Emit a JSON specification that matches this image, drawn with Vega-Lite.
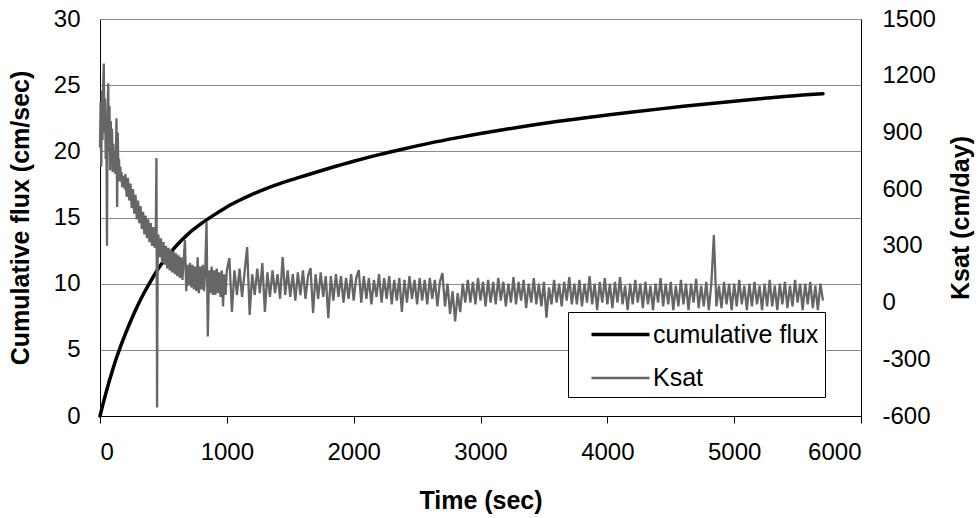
{
"$schema": "https://vega.github.io/schema/vega-lite/v6.json",
"width": 761, "height": 397,
"autosize": "none",
"padding": {"left": 100, "top": 19, "right": 119, "bottom": 102},
"background": "white",
"config": {"font": "Liberation Sans", "view": {"stroke": null},
 "axis": {"labelFont": "Liberation Sans", "titleFont": "Liberation Sans", "labelColor": "black", "titleColor": "black", "labelFontSize": 24, "titleFontSize": 25, "titleFontWeight": "bold", "domainColor": "black", "tickColor": "black", "domainWidth": 1}},
"datasets": {
"flux": [{"t":0,"v":0},{"t":25,"v":0.95},{"t":50,"v":1.85},{"t":75,"v":2.7},{"t":100,"v":3.5},{"t":130,"v":4.4},{"t":160,"v":5.2},{"t":200,"v":6.2},{"t":250,"v":7.35},{"t":300,"v":8.4},{"t":350,"v":9.35},{"t":400,"v":10.2},{"t":450,"v":11.0},{"t":500,"v":11.7},{"t":550,"v":12.3},{"t":600,"v":12.85},{"t":700,"v":13.8},{"t":800,"v":14.55},{"t":900,"v":15.2},{"t":1000,"v":15.8},{"t":1100,"v":16.3},{"t":1200,"v":16.75},{"t":1300,"v":17.15},{"t":1400,"v":17.5},{"t":1500,"v":17.82},{"t":1600,"v":18.12},{"t":1800,"v":18.7},{"t":2000,"v":19.25},{"t":2200,"v":19.75},{"t":2400,"v":20.2},{"t":2600,"v":20.62},{"t":2800,"v":21.0},{"t":3000,"v":21.35},{"t":3200,"v":21.67},{"t":3400,"v":21.97},{"t":3600,"v":22.25},{"t":3800,"v":22.5},{"t":4000,"v":22.74},{"t":4200,"v":22.97},{"t":4400,"v":23.19},{"t":4600,"v":23.4},{"t":4800,"v":23.6},{"t":5000,"v":23.79},{"t":5200,"v":23.97},{"t":5400,"v":24.14},{"t":5600,"v":24.3},{"t":5700,"v":24.36}],
"ksat": [{"t":0,"v":820},{"t":5,"v":1060},{"t":10,"v":720},{"t":15,"v":1120},{"t":20,"v":860},{"t":25,"v":1150},{"t":30,"v":1265},{"t":35,"v":900},{"t":40,"v":1080},{"t":45,"v":760},{"t":50,"v":980},{"t":55,"v":300},{"t":60,"v":1000},{"t":65,"v":1160},{"t":70,"v":800},{"t":75,"v":1040},{"t":80,"v":700},{"t":85,"v":960},{"t":90,"v":780},{"t":95,"v":920},{"t":100,"v":690},{"t":105,"v":840},{"t":110,"v":720},{"t":115,"v":800},{"t":120,"v":680},{"t":125,"v":760},{"t":130,"v":975},{"t":135,"v":505},{"t":140,"v":900},{"t":145,"v":690},{"t":150,"v":760},{"t":155,"v":640},{"t":160,"v":720},{"t":165,"v":650},{"t":170,"v":690},{"t":175,"v":610},{"t":180,"v":670},{"t":185,"v":630},{"t":190,"v":655},{"t":195,"v":600},
{"t":200,"v":680},{"t":210,"v":560},{"t":220,"v":660},{"t":230,"v":540},{"t":240,"v":630},{"t":250,"v":500},{"t":260,"v":600},{"t":270,"v":470},{"t":280,"v":570},{"t":290,"v":440},{"t":300,"v":540},{"t":310,"v":420},{"t":320,"v":510},{"t":330,"v":390},{"t":340,"v":480},{"t":350,"v":360},{"t":360,"v":460},{"t":370,"v":340},{"t":380,"v":440},{"t":390,"v":320},{"t":400,"v":420},{"t":410,"v":300},{"t":420,"v":400},{"t":430,"v":290},{"t":440,"v":380},{"t":445,"v":765},{"t":450,"v":-555},{"t":455,"v":300},
{"t":460,"v":360},{"t":470,"v":240},{"t":480,"v":340},{"t":490,"v":210},{"t":500,"v":320},{"t":510,"v":200},{"t":520,"v":300},{"t":530,"v":180},{"t":540,"v":290},{"t":550,"v":170},{"t":560,"v":280},{"t":570,"v":160},{"t":580,"v":270},{"t":590,"v":150},{"t":600,"v":260},{"t":610,"v":140},{"t":620,"v":250},{"t":630,"v":130},{"t":640,"v":240},{"t":650,"v":120},{"t":660,"v":230},{"t":670,"v":330},{"t":680,"v":60},
{"t":690,"v":200},{"t":700,"v":90},{"t":710,"v":210},{"t":720,"v":80},{"t":730,"v":200},{"t":740,"v":70},{"t":750,"v":190},{"t":760,"v":60},{"t":770,"v":240},{"t":780,"v":50},{"t":790,"v":190},{"t":800,"v":70},{"t":810,"v":200},{"t":820,"v":60},{"t":830,"v":180},{"t":840,"v":426},{"t":850,"v":-180},{"t":860,"v":170},{"t":870,"v":50},{"t":880,"v":190},{"t":890,"v":40},{"t":900,"v":170},{"t":910,"v":40},{"t":920,"v":180},{"t":930,"v":50},{"t":940,"v":160},{"t":950,"v":30},{"t":960,"v":170},{"t":970,"v":-20},{"t":980,"v":150},{"t":990,"v":40},{"t":1000,"v":170},
{"t":1020,"v":236},{"t":1040,"v":-50},{"t":1060,"v":170},{"t":1080,"v":40},{"t":1100,"v":180},{"t":1120,"v":30},{"t":1140,"v":160},{"t":1160,"v":294},{"t":1180,"v":-66},
{"t":1200,"v":150},{"t":1220,"v":40},{"t":1240,"v":180},{"t":1260,"v":50},{"t":1280,"v":209},{"t":1300,"v":-50},{"t":1320,"v":160},{"t":1340,"v":30},{"t":1360,"v":170},{"t":1380,"v":50},
{"t":1400,"v":150},{"t":1420,"v":20},{"t":1440,"v":241},{"t":1460,"v":40},{"t":1480,"v":170},{"t":1500,"v":30},{"t":1520,"v":150},{"t":1540,"v":10},{"t":1560,"v":160},{"t":1580,"v":40},
{"t":1600,"v":170},{"t":1620,"v":20},{"t":1640,"v":140},{"t":1660,"v":183},{"t":1680,"v":-55},{"t":1700,"v":150},{"t":1720,"v":20},{"t":1740,"v":160},{"t":1760,"v":30},{"t":1780,"v":140},
{"t":1800,"v":-82},{"t":1820,"v":140},{"t":1840,"v":10},{"t":1860,"v":150},{"t":1880,"v":30},{"t":1900,"v":140},{"t":1920,"v":0},{"t":1940,"v":130},{"t":1960,"v":20},{"t":1980,"v":150},
{"t":2000,"v":10},{"t":2020,"v":130},{"t":2040,"v":172},{"t":2060,"v":0},{"t":2080,"v":140},{"t":2100,"v":20},{"t":2120,"v":130},{"t":2140,"v":-10},{"t":2160,"v":120},{"t":2180,"v":30},
{"t":2200,"v":150},{"t":2220,"v":0},{"t":2240,"v":130},{"t":2260,"v":20},{"t":2280,"v":140},{"t":2300,"v":-10},{"t":2320,"v":120},{"t":2340,"v":10},{"t":2360,"v":130},{"t":2380,"v":-50},
{"t":2400,"v":120},{"t":2420,"v":0},{"t":2440,"v":140},{"t":2460,"v":20},{"t":2480,"v":120},{"t":2500,"v":-10},{"t":2520,"v":130},{"t":2540,"v":10},{"t":2560,"v":120},{"t":2580,"v":-10},
{"t":2600,"v":130},{"t":2620,"v":20},{"t":2640,"v":120},{"t":2660,"v":-20},{"t":2680,"v":110},{"t":2700,"v":156},{"t":2720,"v":-20},{"t":2740,"v":100},{"t":2760,"v":-60},{"t":2780,"v":60},
{"t":2800,"v":-100},{"t":2820,"v":50},{"t":2840,"v":-50},{"t":2860,"v":100},{"t":2880,"v":0},{"t":2900,"v":120},{"t":2920,"v":0},{"t":2940,"v":110},{"t":2960,"v":-10},{"t":2980,"v":130},
{"t":3000,"v":10},{"t":3020,"v":110},{"t":3040,"v":-20},{"t":3060,"v":120},{"t":3080,"v":0},{"t":3100,"v":110},{"t":3120,"v":-10},{"t":3140,"v":130},{"t":3160,"v":10},{"t":3180,"v":110},
{"t":3200,"v":-20},{"t":3220,"v":100},{"t":3240,"v":0},{"t":3260,"v":135},{"t":3280,"v":-10},{"t":3300,"v":110},{"t":3320,"v":10},{"t":3340,"v":120},{"t":3360,"v":-30},{"t":3380,"v":100},
{"t":3400,"v":0},{"t":3420,"v":130},{"t":3440,"v":-10},{"t":3460,"v":100},{"t":3480,"v":-20},{"t":3500,"v":110},{"t":3520,"v":-80},{"t":3540,"v":80},{"t":3560,"v":-10},{"t":3580,"v":120},
{"t":3600,"v":0},{"t":3620,"v":100},{"t":3640,"v":-20},{"t":3660,"v":110},{"t":3680,"v":10},{"t":3700,"v":135},{"t":3720,"v":-10},{"t":3740,"v":100},{"t":3760,"v":-10},{"t":3780,"v":120},
{"t":3800,"v":-20},{"t":3820,"v":100},{"t":3840,"v":0},{"t":3860,"v":140},{"t":3880,"v":-10},{"t":3900,"v":100},{"t":3920,"v":-40},{"t":3940,"v":110},{"t":3960,"v":0},{"t":3980,"v":130},
{"t":4000,"v":-10},{"t":4020,"v":100},{"t":4040,"v":-30},{"t":4060,"v":110},{"t":4080,"v":0},{"t":4100,"v":135},{"t":4120,"v":-10},{"t":4140,"v":90},{"t":4160,"v":-40},{"t":4180,"v":100},
{"t":4200,"v":-10},{"t":4220,"v":120},{"t":4240,"v":0},{"t":4260,"v":100},{"t":4280,"v":-30},{"t":4300,"v":110},{"t":4320,"v":-10},{"t":4340,"v":90},{"t":4360,"v":-40},{"t":4380,"v":100},
{"t":4400,"v":0},{"t":4420,"v":130},{"t":4440,"v":-20},{"t":4460,"v":100},{"t":4480,"v":-10},{"t":4500,"v":110},{"t":4520,"v":-40},{"t":4540,"v":90},{"t":4560,"v":-20},{"t":4580,"v":120},
{"t":4600,"v":-10},{"t":4620,"v":100},{"t":4640,"v":-40},{"t":4660,"v":100},{"t":4680,"v":0},{"t":4700,"v":125},{"t":4720,"v":-30},{"t":4740,"v":90},{"t":4760,"v":-20},{"t":4780,"v":110},
{"t":4800,"v":-40},{"t":4820,"v":100},{"t":4840,"v":357},{"t":4860,"v":-20},{"t":4880,"v":90},{"t":4900,"v":-30},{"t":4920,"v":110},{"t":4940,"v":-10},{"t":4960,"v":100},{"t":4980,"v":-40},
{"t":5000,"v":100},{"t":5020,"v":-20},{"t":5040,"v":120},{"t":5060,"v":-10},{"t":5080,"v":90},{"t":5100,"v":-40},{"t":5120,"v":100},{"t":5140,"v":-20},{"t":5160,"v":110},{"t":5180,"v":-10},
{"t":5200,"v":90},{"t":5220,"v":-40},{"t":5240,"v":100},{"t":5260,"v":-20},{"t":5280,"v":120},{"t":5300,"v":-20},{"t":5320,"v":90},{"t":5340,"v":-40},{"t":5360,"v":100},{"t":5380,"v":-10},
{"t":5400,"v":110},{"t":5420,"v":-30},{"t":5440,"v":90},{"t":5460,"v":-20},{"t":5480,"v":120},{"t":5500,"v":0},{"t":5520,"v":100},{"t":5540,"v":-40},{"t":5560,"v":100},{"t":5580,"v":-10},
{"t":5600,"v":110},{"t":5620,"v":-30},{"t":5640,"v":90},{"t":5660,"v":-40},{"t":5680,"v":100},{"t":5700,"v":10}]
},
"encoding": {
 "x": {"field": "t", "type": "quantitative", "scale": {"domain": [0, 6000], "nice": false},
  "axis": {"title": "Time (sec)", "values": [0,1000,2000,3000,4000,5000,6000], "format": "d", "grid": false, "tickSize": 7, "labelPadding": 17, "titlePadding": 24}}
},
"layer": [
 {"data": {"name": "flux"}, "mark": {"type": "line", "strokeCap": "round", "interpolate": "monotone"},
  "encoding": {
   "y": {"field": "v", "type": "quantitative", "scale": {"domain": [0, 30], "nice": false},
    "axis": {"title": "Cumulative flux (cm/sec)", "orient": "left", "values": [0,5,10,15,20,25,30], "grid": true, "gridColor": "#8a8a8a", "gridWidth": 1, "ticks": false, "tickSize": 0, "labelPadding": 20, "titlePadding": 20}},
   "color": {"datum": "cumulative flux", "type": "nominal", "scale": {"domain": ["cumulative flux", "Ksat"], "range": ["#000000", "#666666"]},
    "legend": {"title": null, "orient": "none", "legendX": 468, "legendY": 293, "symbolType": "M-2,0H2", "symbolSize": 841, "labelFontSize": 25, "labelFont": "Liberation Sans", "labelColor": "black", "labelLimit": 400, "padding": 6, "strokeColor": "black", "fillColor": "white", "rowPadding": 14, "symbolOffset": 30, "labelOffset": 16}},
   "strokeWidth": {"datum": "cumulative flux", "type": "nominal", "scale": {"domain": ["cumulative flux", "Ksat"], "range": [3.5, 2.3]},
    "legend": {"title": null, "orient": "none", "legendX": 468, "legendY": 293, "symbolType": "M-2,0H2", "symbolSize": 841, "labelFontSize": 25, "labelFont": "Liberation Sans", "labelColor": "black", "labelLimit": 400, "padding": 6, "strokeColor": "black", "fillColor": "white", "rowPadding": 14, "symbolOffset": 30, "labelOffset": 16}}
  }},
 {"data": {"name": "ksat"}, "mark": {"type": "line"},
  "encoding": {
   "y": {"field": "v", "type": "quantitative", "scale": {"domain": [-600, 1500], "nice": false},
    "axis": {"title": "Ksat (cm/day)", "orient": "right", "values": [-600,-300,0,300,600,900,1200,1500], "labelExpr": "'' + datum.value", "grid": false, "ticks": false, "tickSize": 0, "labelPadding": 21, "titlePadding": 38, "titleAngle": 270}},
   "color": {"datum": "Ksat", "type": "nominal"},
   "strokeWidth": {"datum": "Ksat", "type": "nominal"}
  }}
],
"resolve": {"scale": {"y": "independent"}}
}
